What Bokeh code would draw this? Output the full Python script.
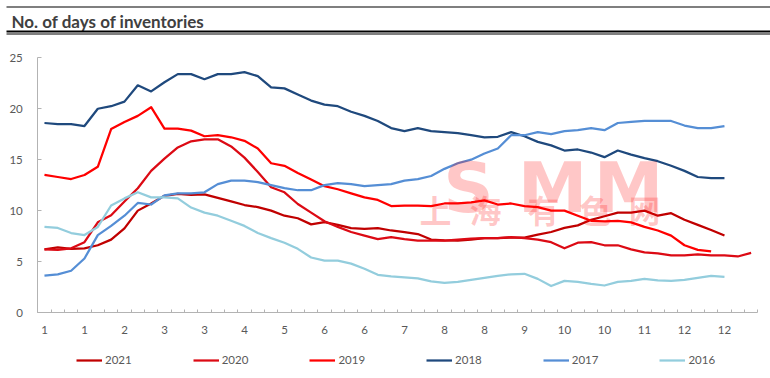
from bokeh.plotting import figure
from bokeh.models import (Range1d, FixedTicker, Legend, LegendItem, Label,
                          ColumnDataSource, LinearAxis, BoxAnnotation)
from bokeh.embed import file_html
from bokeh.resources import INLINE

# ---------------- data (weekly, 54 week slots) ----------------
chart_title = "No. of days of inventories"
week_tick_positions = [0, 3, 6, 9, 12, 15, 18, 21, 24, 27, 30, 33, 36, 39, 42, 45, 48, 51]
week_tick_labels = ["1", "1", "2", "3", "3", "4", "5", "6", "6", "7", "8", "8",
                    "9", "10", "10", "11", "12", "12"]
y_ticks = [0, 5, 10, 15, 20, 25]

s2021 = [6.2, 6.4, 6.25, 6.3, 6.6, 7.15, 8.25, 10.0, 10.7, 11.45, 11.65, 11.55, 11.6,
         11.25, 10.9, 10.55, 10.35, 10.0, 9.5, 9.25, 8.65, 8.87, 8.6, 8.28, 8.2, 8.28,
         8.05, 7.9, 7.7, 7.16, 7.07, 7.05, 7.15, 7.3, 7.3, 7.35, 7.35, 7.65, 7.9, 8.3,
         8.55, 9.1, 9.45, 9.8, 9.8, 10.0, 9.5, 9.75, 9.1, 8.6, 8.1, 7.55]
s2020 = [6.2, 6.15, 6.3, 6.9, 8.85, 9.55, 10.9, 12.2, 13.9, 15.1, 16.2, 16.8, 17.0,
         17.0, 16.3, 15.2, 13.8, 12.3, 11.8, 10.65, 9.8, 8.95, 8.4, 7.9, 7.55, 7.2,
         7.4, 7.2, 7.05, 7.05, 7.05, 7.15, 7.25, 7.3, 7.3, 7.4, 7.3, 7.15, 6.9, 6.3,
         6.85, 6.9, 6.6, 6.6, 6.2, 5.9, 5.8, 5.6, 5.6, 5.7, 5.6, 5.6, 5.5, 5.85]
s2019 = [13.5, 13.3, 13.1, 13.5, 14.3, 18.0, 18.7, 19.3, 20.15, 18.05, 18.05, 17.85,
         17.3, 17.4, 17.2, 16.85, 16.1, 14.65, 14.4, 13.7, 13.05, 12.4, 12.1, 11.7,
         11.3, 11.05, 10.45, 10.5, 10.5, 10.45, 10.7, 10.7, 10.8, 11.0, 10.6, 10.7,
         10.45, 10.35, 10.0, 10.0, 9.5, 9.0, 8.95, 9.0, 8.85, 8.4, 8.05, 7.55, 6.6,
         6.15, 6.0]
s2018 = [18.6, 18.5, 18.5, 18.3, 20.0, 20.25, 20.7, 22.3, 21.7, 22.6, 23.4, 23.4,
         22.9, 23.4, 23.4, 23.6, 23.2, 22.1, 22.0, 21.4, 20.8, 20.4, 20.25, 19.7,
         19.3, 18.8, 18.1, 17.8, 18.1, 17.8, 17.7, 17.6, 17.4, 17.2, 17.25, 17.7,
         17.3, 16.75, 16.4, 15.9, 16.0, 15.7, 15.25, 15.9, 15.5, 15.15, 14.85, 14.4,
         13.9, 13.3, 13.2, 13.2]
s2017 = [3.63, 3.75, 4.1, 5.3, 7.6, 8.5, 9.5, 10.75, 10.6, 11.5, 11.7, 11.7, 11.8,
         12.6, 12.95, 12.95, 12.8, 12.5, 12.2, 12.0, 12.0, 12.5, 12.7, 12.6, 12.4,
         12.5, 12.6, 12.95, 13.1, 13.4, 14.1, 14.65, 15.0, 15.6, 16.1, 17.4, 17.4,
         17.7, 17.5, 17.8, 17.9, 18.1, 17.9, 18.6, 18.7, 18.8, 18.8, 18.8, 18.35,
         18.1, 18.1, 18.3]
s2016 = [8.4, 8.3, 7.8, 7.6, 8.4, 10.5, 11.2, 11.8, 11.3, 11.3, 11.2, 10.3, 9.8, 9.5,
         9.0, 8.5, 7.8, 7.3, 6.85, 6.25, 5.4, 5.1, 5.1, 4.8, 4.3, 3.7, 3.55, 3.45,
         3.35, 3.05, 2.9, 3.0, 3.2, 3.4, 3.6, 3.75, 3.8, 3.3, 2.6, 3.1, 3.0, 2.8,
         2.65, 3.0, 3.1, 3.3, 3.15, 3.1, 3.2, 3.4, 3.6, 3.5]

series_names = ["2021", "2020", "2019", "2018", "2017", "2016"]
series_values = [s2021, s2020, s2019, s2018, s2017, s2016]
series_colors = ["#C00000", "#DC0A14", "#FF0000", "#1F497D", "#558ED5", "#93CDDD"]

N_WEEKS = 54
W, H = 770, 378
# plot-area placement inside the canvas (pixels)
AX_LEFT, AX_RIGHT, AX_TOP, AX_BOTTOM = 37.3, 757.3, 57.3, 312.0
Y_MAX = 25.0

px_per_x = (AX_RIGHT - AX_LEFT) / N_WEEKS
px_per_y = (AX_BOTTOM - AX_TOP) / Y_MAX
x_lo = -0.5 - AX_LEFT / px_per_x
x_hi = N_WEEKS - 0.5 + (W - AX_RIGHT) / px_per_x
y_lo = -(H - AX_BOTTOM) / px_per_y
y_hi = Y_MAX + AX_TOP / px_per_y

p = figure(width=W, height=H, output_backend="svg", toolbar_location=None,
           x_range=Range1d(x_lo, x_hi), y_range=Range1d(y_lo, y_hi),
           x_axis_location=None, y_axis_location=None,
           min_border_left=0, min_border_right=0, min_border_top=0,
           min_border_bottom=0)
p.outline_line_color = None
p.grid.visible = False

renderers = {}
for name, vals, col in zip(series_names, series_values, series_colors):
    src = ColumnDataSource(dict(x=list(range(len(vals))), y=vals))
    renderers[name] = p.line("x", "y", source=src, line_color=col,
                             line_width=2.25, line_join="round")

axis_grey = "#B3B3B3"
label_grey = "#595959"

xa = LinearAxis(fixed_location=0, bounds=(-0.5, N_WEEKS - 0.5),
                ticker=FixedTicker(ticks=week_tick_positions,
                                   minor_ticks=[k - 0.5 for k in range(N_WEEKS + 1)]),
                major_label_overrides={t: l for t, l in zip(week_tick_positions,
                                                            week_tick_labels)},
                major_tick_in=0, major_tick_out=0, minor_tick_in=3, minor_tick_out=0,
                minor_tick_line_color=axis_grey, axis_line_color=axis_grey,
                major_label_standoff=13, major_label_text_font="Lato",
                major_label_text_font_size="11.5px", major_label_text_color=label_grey)
p.add_layout(xa, "below")

ya = LinearAxis(fixed_location=-0.5, bounds=(0, Y_MAX),
                ticker=FixedTicker(ticks=y_ticks, minor_ticks=[]),
                major_tick_in=4, major_tick_out=0, minor_tick_in=0, minor_tick_out=0,
                major_tick_line_color=axis_grey, axis_line_color=axis_grey,
                major_label_standoff=15, major_label_text_font="Lato",
                major_label_text_font_size="11.5px", major_label_text_color=label_grey)
p.add_layout(ya, "left")

legend = Legend(items=[LegendItem(label=n, renderers=[renderers[n]]) for n in series_names],
                orientation="horizontal", location=(76, 12),
                glyph_width=26, glyph_height=12, label_height=12,
                label_standoff=3, spacing=61, padding=0, margin=0,
                border_line_color=None, background_fill_alpha=0,
                label_text_font="Lato", label_text_font_size="11.5px",
                label_text_color=label_grey)
p.add_layout(legend, "center")

# ---------------- header ----------------
p.add_layout(Label(x=11, y=H - 21, x_units="screen", y_units="screen",
                   text=chart_title, text_font="Lato",
                   text_font_style="bold", text_font_size="17px",
                   text_color="#404040", text_baseline="alphabetic"))
for (b, t) in [(H - 7, H - 6), (H - 32, H - 30), (H - 34, H - 33)]:
    p.add_layout(BoxAnnotation(left=6, right=W, bottom=b, top=t,
                               left_units="screen", right_units="screen",
                               bottom_units="screen", top_units="screen",
                               fill_color="black", fill_alpha=1.0,
                               line_color=None))

# ---------------- watermark ----------------
for ch, cx in zip("SMM", [468, 552, 628]):
    p.add_layout(Label(x=cx, y=H - 187, x_units="screen", y_units="screen", text=ch,
                       text_font="DejaVu Sans", text_font_style="bold",
                       text_font_size="70px", text_color="#FF0000",
                       text_alpha=0.22, text_align="center",
                       text_baseline="alphabetic"))
for ch, cx in zip("上海有色网", [435, 485, 543, 595, 644]):
    p.add_layout(Label(x=cx, y=H - 208.5, x_units="screen", y_units="screen", text=ch,
                       text_font="Noto Sans CJK SC", text_font_style="bold",
                       text_font_size="32px", text_color="#FF0000",
                       text_alpha=0.22, text_align="center",
                       text_baseline="middle"))

open("out.html", "w").write(file_html(p, INLINE))
